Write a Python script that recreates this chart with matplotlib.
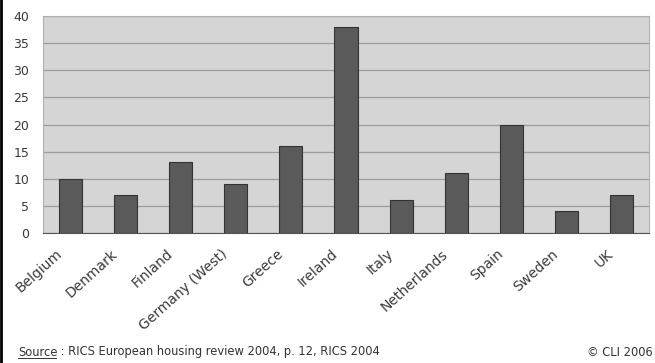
import numpy as np
import matplotlib.pyplot as plt
import matplotlib.transforms as mtransforms
from matplotlib.lines import Line2D

countries = ["Belgium", "Denmark", "Finland", "Germany (West)", "Greece", "Ireland",
             "Italy", "Netherlands", "Spain", "Sweden", "UK"]
values = [10, 7, 13, 9, 16, 38, 6, 11, 20, 4, 7]
yticks = [0, 5, 10, 15, 20, 25, 30, 35, 40]

plt.rcParams['font.family'] = ['DejaVu Sans']

fig = plt.figure(figsize=(6.55, 3.63), dpi=100)
ax = fig.add_axes([43 / 655, 1 - 233 / 363, (649 - 43) / 655, (233 - 16) / 363])

x = np.arange(len(countries))
ax.bar(x, values, width=0.42, color="#5a5a5a", edgecolor="#333333", linewidth=0.8, zorder=3)

ax.set_facecolor("#d5d5d5")
ax.set_xlim(-0.5, len(countries) - 0.5)
ax.set_ylim(0, 40)
ax.set_yticks(yticks)
ax.set_yticklabels([str(t) for t in yticks], fontsize=9, color="#3a3a3a")
ax.yaxis.grid(True, color="#9c9c9c", linewidth=0.9, zorder=0)
ax.tick_params(axis="y", length=0, pad=10)
ax.set_xticks(x)
ax.set_xticklabels([])
ax.tick_params(axis="x", length=0)
for s in ["top", "right", "left"]:
    ax.spines[s].set_color("#b0b0b0")
ax.spines["bottom"].set_color("#555555")

# rotated category labels, shifted down-left like the original
offset = mtransforms.ScaledTranslation(-10 / 100, -19 / 100, fig.dpi_scale_trans)
lbl_trans = mtransforms.blended_transform_factory(ax.transData, ax.transAxes) + offset
for xi, name in zip(x, countries):
    ax.text(xi, 0, name, transform=lbl_trans, rotation=42, ha="right", va="center",
            rotation_mode="anchor", fontsize=10, color="#3a3a3a")

fig.text(18 / 655, 1 - 352 / 363, "Source", fontsize=8.3, color="#333333", va="center")
fig.add_artist(Line2D([18 / 655, 56 / 655], [1 - 358 / 363] * 2, color="#333333", linewidth=0.7))
fig.text(57 / 655, 1 - 352 / 363, " : RICS European housing review 2004, p. 12, RICS 2004",
         fontsize=8.3, color="#333333", va="center")
fig.text(653 / 655, 1 - 352 / 363, "© CLI 2006", fontsize=8.3, color="#333333",
         va="center", ha="right")
fig.add_artist(Line2D([1 / 655, 1 / 655], [0, 1], color="black", linewidth=2))

fig.savefig("out.png", dpi=100)
